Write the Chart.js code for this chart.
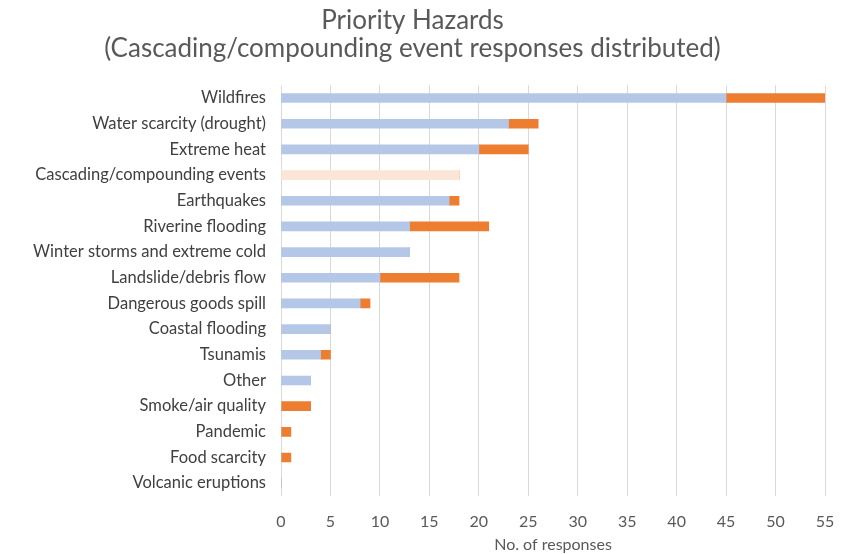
<!DOCTYPE html>
<html>
<head>
<meta charset="utf-8">
<script src="https://cdn.jsdelivr.net/npm/chart.js@4.4.0/dist/chart.umd.min.js"></script>
<style>
    html, body { margin: 0; padding: 0; background: #fff; }
    #wrap { width: 844px; height: 554px; }
</style>
</head>
<body>
<div id="wrap"><canvas id="myChart"></canvas></div>
<script>
// hazards, top to bottom
const hazards = ['Wildfires', 'Water scarcity (drought)', 'Extreme heat', 'Cascading/compounding events',
    'Earthquakes', 'Riverine flooding', 'Winter storms and extreme cold', 'Landslide/debris flow',
    'Dangerous goods spill', 'Coastal flooding', 'Tsunamis', 'Other', 'Smoke/air quality',
    'Pandemic', 'Food scarcity', 'Volcanic eruptions'];
const priorityResponses = [45, 23, 20, 18, 17, 13, 13, 10, 8, 5, 4, 3, 0, 0, 0, 0];
const cascadingDistributed = [10, 3, 5, 0, 1, 8, 0, 8, 1, 0, 1, 0, 3, 1, 1, 0];
const xTicks = [0, 5, 10, 15, 20, 25, 30, 35, 40, 45, 50, 55];

const blue = '#B4C7E7';
const orange = '#ED7D31';
const peach = '#FBE5D6';
const textColor = '#595959';

let ctx = document.getElementById('myChart');

let myChart = new Chart(ctx, {
    type: 'bar',
    data: {
        labels: hazards,
        datasets: [{
            label: 'Responses',
            data: priorityResponses,
            // the cascading row itself is shown faded
            backgroundColor: hazards.map(h => h === 'Cascading/compounding events' ? peach : blue),
            barThickness: 9
        }, {
            label: 'Cascading/compounding distributed',
            data: cascadingDistributed,
            backgroundColor: orange,
            barThickness: 9
        }]
    },
    options: {
        indexAxis: 'y',
        responsive: true,
        maintainAspectRatio: false,
        animation: false,
        layout: {
            padding: { top: 0, right: 19, bottom: 0, left: 0 }
        },
        scales: {
            x: {
                stacked: true,
                min: xTicks[0],
                max: xTicks[xTicks.length - 1],
                afterBuildTicks: scale => { scale.ticks = xTicks.map(v => ({ value: v })); },
                grid: { color: '#D9D9D9', drawTicks: false },
                border: { display: false },
                ticks: {
                    color: textColor,
                    padding: 16,
                    font: { family: 'Lato', size: 16 }
                },
                title: {
                    display: true,
                    text: 'No. of responses',
                    color: textColor,
                    padding: { top: 4, bottom: 0 },
                    font: { family: 'Lato', size: 16 }
                },
                afterFit: scale => {
                    scale.height = 58;
                    scale.paddingLeft = 0;
                    scale.paddingRight = 0;
                }
            },
            y: {
                stacked: true,
                grid: { display: false, drawTicks: false },
                border: { display: false },
                ticks: {
                    color: '#404040',
                    padding: 15,
                    autoSkip: false,
                    font: { family: 'Lato', size: 16.5 }
                },
                afterFit: scale => { scale.width = 281; }
            }
        },
        plugins: {
            legend: { display: false },
            tooltip: { enabled: false },
            title: {
                display: true,
                text: ['Priority Hazards', '(Cascading/compounding event responses distributed)'],
                color: textColor,
                padding: { top: 6, bottom: 22 },
                font: { family: 'Lato', size: 26, weight: 'normal', lineHeight: 1.1 }
            }
        }
    }
});
</script>
</body>
</html>
